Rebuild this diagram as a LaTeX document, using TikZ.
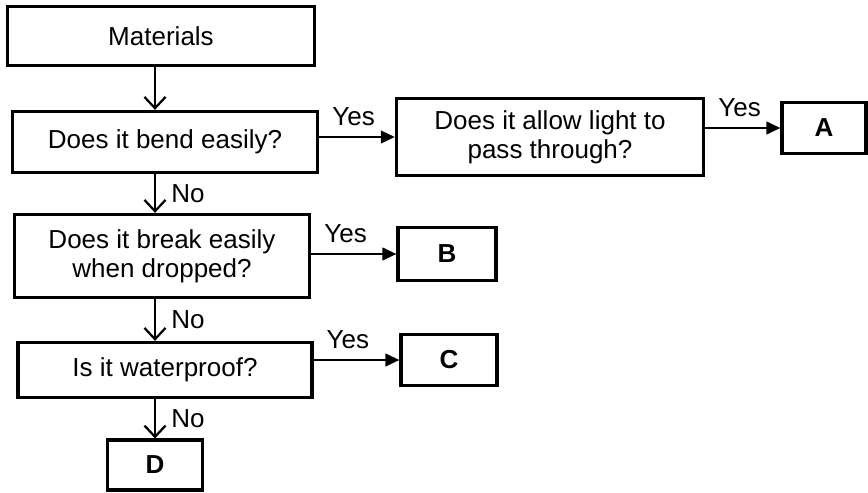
\documentclass[tikz,border=0pt]{standalone}
\usepackage{fontspec}
\setmainfont{Liberation Sans}
\usetikzlibrary{arrows.meta}
\newcommand{\qfont}{\fontsize{18.5}{20.5}\selectfont}
\tikzset{
  qbox/.style={draw, line width=2.2pt, inner sep=0pt, align=center, font=\qfont},
  abox/.style={qbox, font=\qfont\bfseries},
  varr/.style={line width=1.6pt, -{Straight Barb[length=8pt,width=15pt,line width=1.6pt]}},
  harr/.style={line width=1.6pt, -{Triangle[length=10pt,width=9pt]}},
  yeslbl/.style={anchor=south west, inner sep=0pt, xshift=0.3cm, yshift=0.25cm, font=\qfont},
  nolbl/.style={anchor=west, inner sep=0pt, xshift=0.38cm, font=\qfont}
}
\begin{document}
\begin{tikzpicture}[>=stealth,x=0.025cm,y=-0.025cm]
		\useasboundingbox (0,0) rectangle (868,493);
		% question boxes
		\node[qbox, minimum width=7.68cm, minimum height=1.48cm] (mat) at (161,36) {Materials};
		\node[qbox, minimum width=7.63cm, minimum height=1.53cm] (bend) at (165,142) {Does it bend easily?};
		\node[qbox, minimum width=7.68cm, minimum height=1.93cm] (light) at (550,137) {Does it allow light to\\pass through?};
		\node[qbox, minimum width=7.38cm, minimum height=2.08cm] (brk) at (162,256) {Does it break easily\\when dropped?};
		\node[qbox, minimum width=7.35cm, minimum height=1.38cm] (water) at (165,370) {Is it waterproof?};
		% answer boxes
		\node[abox, minimum width=2.10cm, minimum height=1.28cm] (a) at (824,128) {A};
		\node[abox, minimum width=2.45cm, minimum height=1.33cm] (b) at (447,254) {B};
		\node[abox, minimum width=2.40cm, minimum height=1.28cm] (c) at (449,360) {C};
		\node[abox, minimum width=2.38cm, minimum height=1.25cm] (d) at (155,465) {D};
		% down the left
		\draw[varr] (mat.south -| d.north) -- (bend.north -| d.north);
		\draw[varr] (bend.south -| d.north) -- node[nolbl] {No} (brk.north -| d.north);
		\draw[varr] (brk.south -| d.north) -- node[nolbl] {No} (water.north -| d.north);
		\draw[varr] (water.south -| d.north) -- node[nolbl] {No} (d.north);
		% across
		\draw[harr] (bend.east |- light.west) node[yeslbl] {Yes} -- (light.west);
		\draw[harr] (light.east |- a.west) node[yeslbl] {Yes} -- (a.west);
		\draw[harr] (brk.east |- b.west) node[yeslbl] {Yes} -- (b.west);
		\draw[harr] (water.east |- c.west) node[yeslbl] {Yes} -- (c.west);
\end{tikzpicture}
\end{document}
